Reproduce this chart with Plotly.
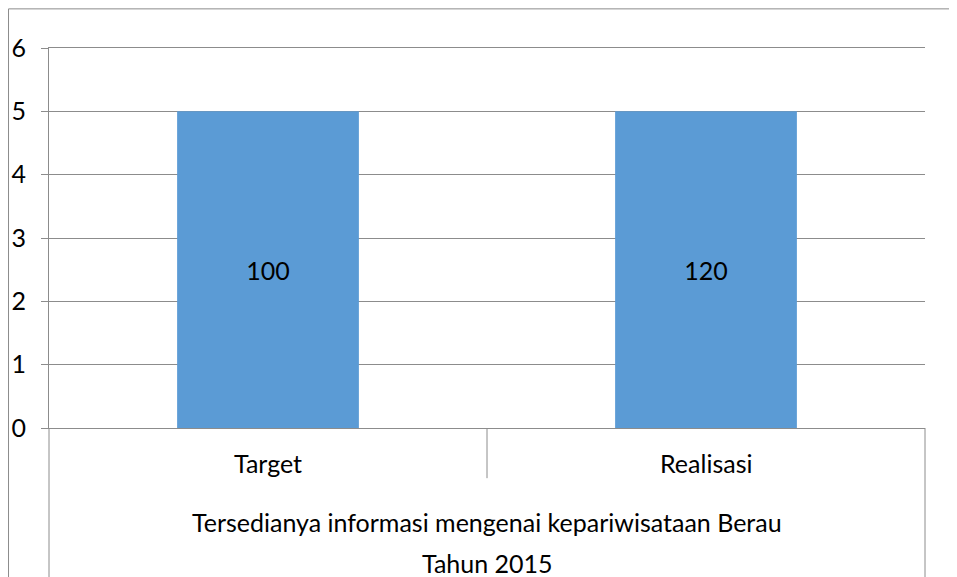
import plotly.graph_objects as go

# data
categories = ['Target', 'Realisasi']
bar_values = [5, 5]
bar_labels = ['100', '120']
group_label = 'Tersedianya informasi mengenai kepariwisataan Berau'
year_label = 'Tahun 2015'
y_ticks = [0, 1, 2, 3, 4, 5, 6]

FONT = 'Lato'
FS = 25
GRID = '#8c8c8c'

fig = go.Figure(go.Bar(x=categories, y=bar_values, text=bar_labels,
                       textposition='inside', insidetextanchor='middle',
                       textfont={'family': FONT, 'size': FS, 'color': '#000000'},
                       marker={'color': '#5b9bd5', 'line': {'width': 0}},
                       width=0.415, hoverinfo='skip'))

#page body has an 8px margin, so offsets are shifted by 8px
fig.update_layout(width=957, height=577,
                  margin={'l': 41, 'r': 40, 't': 40, 'b': 157},
                  paper_bgcolor='white', plot_bgcolor='white', uniformtext={'minsize': FS, 'mode': 'show'},
                  showlegend=False, font={'family': FONT, 'size': FS, 'color': '#000000'})

fig.update_xaxes(range=[-0.5, 1.5], showticklabels=False, showgrid=False, automargin=False,
                 showline=True, mirror=True, linecolor=GRID, linewidth=1, zeroline=False, ticks='')
fig.update_yaxes(range=[0, 6], tickvals=y_ticks, showgrid=True, gridcolor=GRID, automargin=False,
                 gridwidth=1, zeroline=False, showline=True, linecolor=GRID, linewidth=1,
                 ticks='outside', ticklen=7, tickcolor=GRID, ticklabelstandoff=10,
                 tickfont={'family': FONT, 'size': FS, 'color': '#000000'})

#category labels under the axis
for c in categories:
    fig.add_annotation(x=c, y=-0.092, xref='x', yref='paper', text=c, showarrow=False,
                       yanchor='middle', font={'family': FONT, 'size': FS})
fig.add_annotation(x=0.5, y=-0.247, xref='x domain', yref='paper', text=group_label,
                   showarrow=False, yanchor='middle', font={'family': FONT, 'size': FS})
fig.add_annotation(x=0.5, y=-0.355, xref='x domain', yref='paper', text=year_label,
                   showarrow=False, yanchor='middle', font={'family': FONT, 'size': FS})

line = {'color': GRID, 'width': 1}
#axis frame lines below the plot
fig.add_shape(type='line', xref='x domain', yref='paper', x0=0, x1=0, y0=-0.4, y1=0, line=line)
fig.add_shape(type='line', xref='x domain', yref='paper', x0=1, x1=1, y0=-0.4, y1=0, line=line)
fig.add_shape(type='line', xref='x domain', yref='paper', x0=0.5, x1=0.5, y0=-0.132, y1=0, line=line)
#outer chart border (cropped on right and bottom)
fig.add_shape(type='line', xref='x domain', yref='paper', x0=-0.0462, x1=1.1, y0=1.103, y1=1.103, line=line)
fig.add_shape(type='line', xref='x domain', yref='paper', x0=-0.0462, x1=-0.0462, y0=-0.4, y1=1.103, line=line)

fig.write_html('out.html')
